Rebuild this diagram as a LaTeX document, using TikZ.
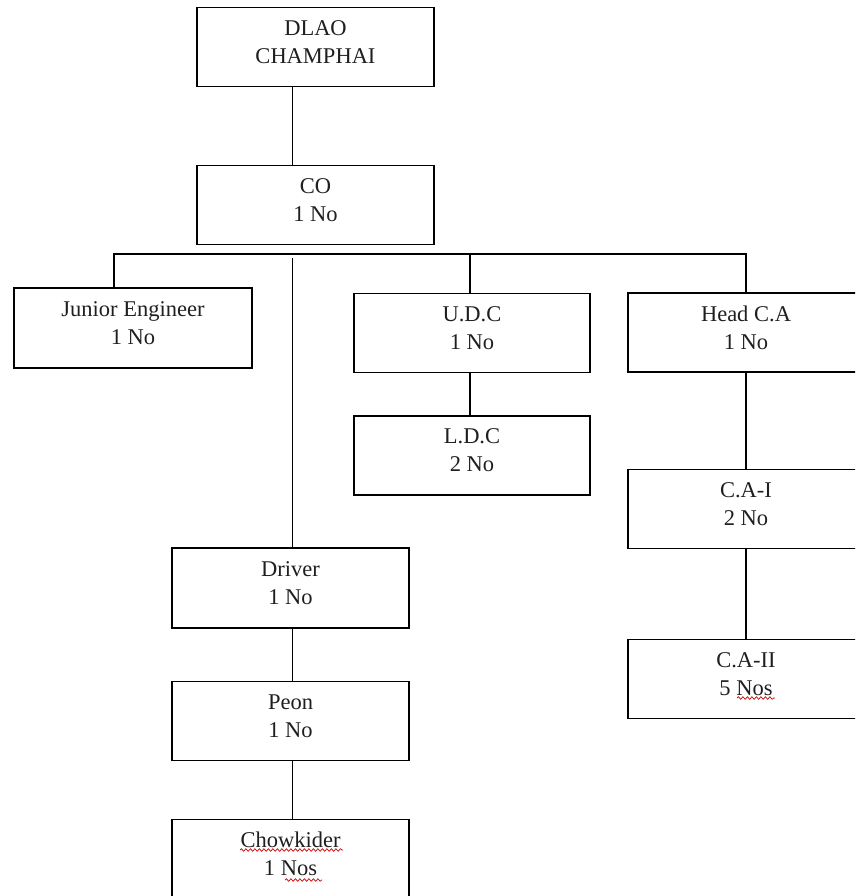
\documentclass[tikz,border=0pt]{standalone}
\usepackage{fontspec}
\setmainfont{Liberation Serif}
\usetikzlibrary{decorations.pathmorphing}
\begin{document}
\begin{tikzpicture}[x=1pt,y=-1pt,
  box/.style={draw, line width=1.6pt, rectangle, minimum width=237pt, minimum height=79pt, inner sep=0pt},
  txt/.style={align=center, font=\fontsize{22.5}{28}\selectfont, text=black!88, yshift=5pt},
  link/.style={line width=1.6pt},
  spell/.style={red!80!black, line width=0.7pt, decorate, decoration={snake, amplitude=1.3pt, segment length=4.5pt}}]
\useasboundingbox (0,0) rectangle (855,896);
\clip (0,0) rectangle (855,896);

% boxes of the chart
\node[box, label={[txt]center:DLAO\\CHAMPHAI}] (dlao) at (315.5,47) {};
\node[box, label={[txt]center:CO\\1 No}] (co) at (315.5,205) {};
\node[box, minimum width=238pt, minimum height=80pt, label={[txt]center:Junior Engineer\\1 No}] (je) at (133,328) {};
\node[box, minimum width=236pt, label={[txt]center:U.D.C\\1 No}] (udc) at (472,333) {};
\node[box, minimum width=236pt, label={[txt]center:L.D.C\\2 No}] (ldc) at (472,455.5) {};
\node[box, minimum width=236pt, label={[txt]center:Head C.A\\1 No}] (head) at (746,332.5) {};
\node[box, minimum width=236pt, label={[txt]center:C.A-I\\2 No}] (cai) at (746,509) {};
\node[box, minimum width=236pt, label={[txt]center:C.A-II\\5 Nos}] (caii) at (746,679) {};
\node[box, minimum height=80pt, label={[txt]center:Driver\\1 No}] (driver) at (290.5,588) {};
\node[box, label={[txt]center:Peon\\1 No}] (peon) at (290.5,721) {};
\node[box, label={[txt]center:Chowkider\\1 Nos}] (chow) at (290.5,859) {};

% connector geometry
\coordinate (spine) at (292.5,0);
\coordinate (barL) at (114,254);
\coordinate (barR) at (746,254);
\coordinate (drvtop) at (292.5,257.5);
\coordinate (udcx) at (470,0);

% connectors
\draw[link] (spine |- dlao.south) -- (spine |- co.north);
\draw[link] (je.north -| barL) -- (barL) -- (barR) -- (head.north);
\draw[link] (udcx |- barL) -- (udcx |- udc.north);
\draw[link] (drvtop) -- (spine |- driver.north);
\draw[link] (udcx |- udc.south) -- (udcx |- ldc.north);
\draw[link] (head.south) -- (cai.north);
\draw[link] (cai.south) -- (caii.north);
\draw[link] (spine |- driver.south) -- (spine |- peon.north);
\draw[link] (spine |- peon.south) -- (spine |- chow.north);

% spell-check underlines
\coordinate (s1a) at (737,698); \coordinate (s1b) at (775,698);
\coordinate (s2a) at (240,850); \coordinate (s2b) at (343,850);
\coordinate (s3a) at (285,880); \coordinate (s3b) at (322,880);
\draw[spell] (s1a) -- (s1b);
\draw[spell] (s2a) -- (s2b);
\draw[spell] (s3a) -- (s3b);
\end{tikzpicture}
\end{document}
